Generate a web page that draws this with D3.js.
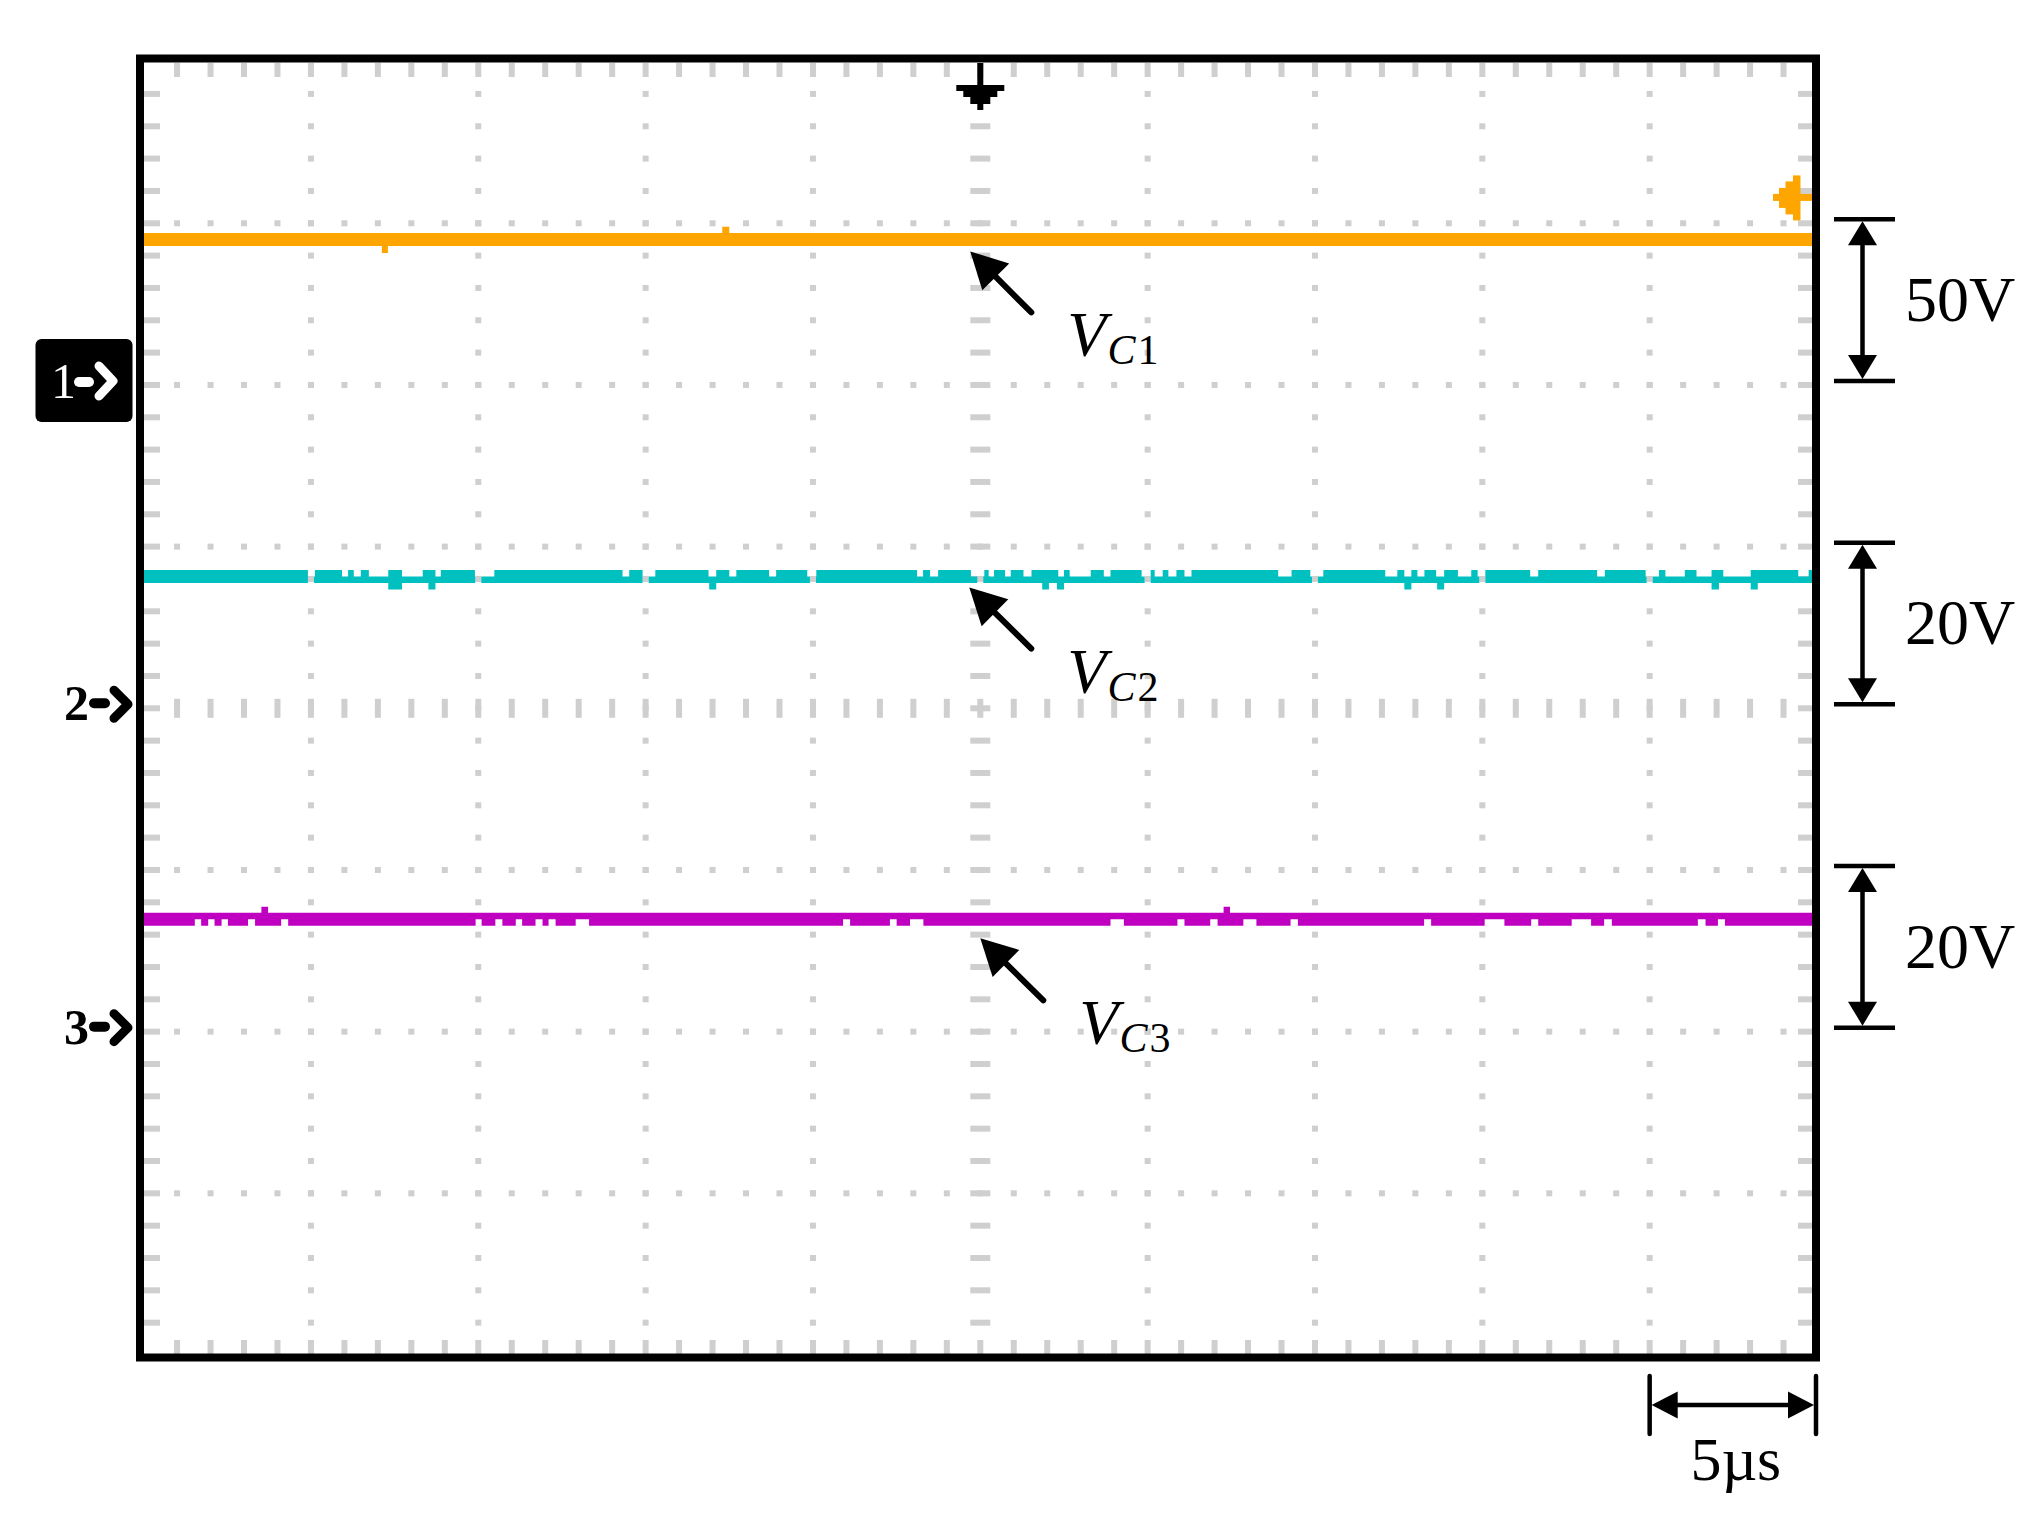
<!DOCTYPE html>
<html>
<head>
<meta charset="utf-8">
<script src="https://cdn.jsdelivr.net/npm/d3@7"></script>
<style>
  html, body { margin: 0; padding: 0; background: #ffffff; }
  svg { display: block; }
</style>
</head>
<body>
<svg id="chart" width="2043" height="1518"></svg>
<script>
// ---------------- DATA ----------------
const channelIds   = [1, 2, 3];
const traceNames   = ["C1", "C2", "C3"];           // subscripts of V
const voltsPerDiv  = [50, 20, 20];                 // V / div
const offsetDiv    = [2, 0, -2];                   // channel zero position (div)
const traceLevels  = [45, 16.3, 13.9];             // V (steady capacitor voltages)
const traceColors  = ["#FFA500", "#00C0C0", "#C000C0"];
const scaleLabels  = ["50V", "20V", "20V"];
const timePerDiv   = 5;                            // µs / div
const timeDivs     = 10;
const voltDivs     = 8;
const timeLabel    = "5\u00B5s";
const triggerLevel = 58;                           // V on CH1

// VC1 glitches (µs intervals)
const vc1Up   = [[-7.71, -7.50]];
const vc1Down = [[-17.88, -17.70]];
const vc1UpDv = 1.9, vc1DownDv = 2.2;

// VC2 glitches
const vc2NotchTop = [[-20.09,-19.88],[-19.07,-18.89],[-18.72,-18.51],[-18.27,-17.69],[-17.28,-16.66],
  [-16.28,-16.12],[-15.10,-14.52],[-10.69,-10.49],[-10.09,-9.71],[-8.12,-7.89],[-7.50,-7.29],
  [-6.31,-6.10],[-5.17,-4.90],[-1.89,-1.71],[-1.50,-1.26],[-0.28,0.12],[0.25,0.41],[0.74,0.91],
  [1.29,1.53],[2.33,2.50],[2.67,3.30],[3.69,3.89],[4.82,5.06],[5.21,5.45],[5.62,5.86],[6.10,6.31],
  [8.90,9.30],[9.86,10.25],[12.10,12.46],[12.67,12.88],[13.06,13.27],[13.62,13.86],[14.27,14.67],
  [14.86,15.07],[16.43,16.67],[18.43,18.66],[19.88,20.28],[20.47,21.05],[21.40,21.85],[22.20,23.02],
  [24.44,24.75]];
const vc2Down = [[-17.69,-17.28],[-16.49,-16.28],[-8.10,-7.89],[1.85,2.05],[2.29,2.50],
  [12.67,12.88],[13.65,13.86],[21.85,22.07],[23.02,23.23]];
const vc2DownDv = 0.8;
const vc2Gap = [[-20.09,-19.91],[-15.09,-14.91],[-10.09,-9.91],[-5.09,-4.91],[-0.09,0.09],
  [4.91,5.09],[9.91,10.09],[14.91,15.09],[19.91,20.09]];

// VC3 glitches
const vc3NotchBot = [[-23.47,-23.28],[-23.07,-22.88],[-22.67,-22.48],[-21.88,-21.67],[-20.89,-20.68],
  [-15.08,-14.90],[-14.49,-14.28],[-13.88,-13.69],[-13.29,-13.08],[-12.90,-12.69],[-12.09,-11.69],
  [-4.10,-3.89],[-2.70,-2.50],[-2.10,-1.70],[3.89,4.29],[5.89,6.10],[6.87,7.09],[7.86,8.25],
  [9.27,9.49],[13.26,13.47],[15.07,15.66],[16.46,16.67],[17.67,18.25],[18.64,18.87],[21.44,21.67],
  [22.04,22.25]];
const vc3Up = [[-21.48,-21.28],[7.27,7.46]];
const vc3UpDv = 0.74;

// ---------------- LAYOUT ----------------
const FONT = "'Liberation Serif','Times New Roman',Times,serif";
const GRID = "#cfcfcf";
const HALF = 6.5;           // half trace thickness (px)
const MARK_SHIFT = -4;      // small vertical nudge of channel markers / scale bars

const svg = d3.select("#chart");
svg.append("rect").attr("width", 2043).attr("height", 1518).attr("fill", "#fff");

const tHalf = timeDivs * timePerDiv / 2;
const x = d3.scaleLinear().domain([-tHalf, tHalf]).range([143.6, 1817]);
const yDiv = d3.scaleLinear().domain([-voltDivs / 2, voltDivs / 2]).range([1355, 61.6]);
const yCh = (ch, v) => yDiv(v / voltsPerDiv[ch] + offsetDiv[ch]);

// ---------------- GRID ----------------
const minorX = d3.range(1, timeDivs * 5).map(m => -tHalf + m * timePerDiv / 5);
const minorY = d3.range(1, voltDivs * 5).map(m => +(-voltDivs / 2 + m * 0.2).toFixed(3));
const majorX = d3.range(1, timeDivs).map(k => -tHalf + k * timePerDiv).filter(t => t !== 0);
const majorY = d3.range(1, voltDivs).map(k => -voltDivs / 2 + k).filter(d => d !== 0);

const g = svg.append("g").attr("fill", GRID);
majorX.forEach(t => minorY.forEach(d =>
  g.append("rect").attr("x", x(t) - 3).attr("y", yDiv(d) - 3).attr("width", 6).attr("height", 6)));
majorY.forEach(d => minorX.forEach(t =>
  g.append("rect").attr("x", x(t) - 3).attr("y", yDiv(d) - 3).attr("width", 6).attr("height", 6)));
minorY.forEach(d =>
  g.append("rect").attr("x", x(0) - 10).attr("y", yDiv(d) - 3).attr("width", 20).attr("height", 6));
minorX.forEach(t =>
  g.append("rect").attr("x", x(t) - 3).attr("y", yDiv(0) - 9.5).attr("width", 6).attr("height", 19));
minorX.forEach(t => {
  g.append("rect").attr("x", x(t) - 3).attr("y", 63).attr("width", 6).attr("height", 14);
  g.append("rect").attr("x", x(t) - 3).attr("y", 1340).attr("width", 6).attr("height", 14);
});
minorY.forEach(d => {
  g.append("rect").attr("x", 144).attr("y", yDiv(d) - 3).attr("width", 16).attr("height", 6);
  g.append("rect").attr("x", 1798).attr("y", yDiv(d) - 3).attr("width", 14).attr("height", 6);
});

// ---------------- TRACES ----------------
function buildProfile(ch, ev) {
  const level = traceLevels[ch];
  const yc = yCh(ch, level);
  const lists = ["notchTop", "notchBot", "gap", "up", "down"].map(k => ev[k] || []);
  const bounds = new Set([-tHalf, tHalf]);
  lists.flat().forEach(([a, b]) => { bounds.add(a); bounds.add(b); });
  const ts = [...bounds].sort((a, b) => a - b);
  const inside = (list, m) => (list || []).some(([a, b]) => m > a && m < b);
  const pts = [];
  for (let i = 0; i < ts.length - 1; i++) {
    const m = (ts[i] + ts[i + 1]) / 2;
    let top = yc - HALF, bot = yc + HALF;
    if (inside(ev.up, m)) top = yCh(ch, level + ev.upDv) - HALF;
    if (inside(ev.down, m)) bot = yCh(ch, level - ev.downDv) + HALF;
    if (inside(ev.notchTop, m)) top = yc;
    if (inside(ev.notchBot, m)) bot = yc;
    if (inside(ev.gap, m)) { top = yc; bot = yc; }
    pts.push({ t: ts[i], top, bot });
  }
  const last = pts[pts.length - 1];
  pts.push({ t: tHalf, top: last.top, bot: last.bot });
  return pts;
}

const traceEvents = [
  { up: vc1Up, upDv: vc1UpDv, down: vc1Down, downDv: vc1DownDv },
  { notchTop: vc2NotchTop, down: vc2Down, downDv: vc2DownDv, gap: vc2Gap },
  { notchBot: vc3NotchBot, up: vc3Up, upDv: vc3UpDv }
];

svg.append("clipPath").attr("id", "plotClip")
  .append("rect").attr("x", 144).attr("y", 62).attr("width", 1668).attr("height", 1292);

const area = d3.area().x(d => x(d.t)).y0(d => d.bot).y1(d => d.top).curve(d3.curveStepAfter);
const gt = svg.append("g").attr("clip-path", "url(#plotClip)");
traceEvents.forEach((ev, ch) => {
  gt.append("path").attr("d", area(buildProfile(ch, ev))).attr("fill", traceColors[ch]);
});

// ---------------- FRAME ----------------
svg.append("rect").attr("x", 140).attr("y", 58.5).attr("width", 1676).attr("height", 1299)
  .attr("fill", "none").attr("stroke", "#000").attr("stroke-width", 8);

// ground / time reference marker (t = 0)
{
  const x0 = x(0);
  const rects = [[-3, 63, 6, 25], [-24, 85, 48, 6], [-17, 91, 34, 6], [-10, 97, 20, 7], [-3, 104, 6, 6]];
  rects.forEach(([dx, y, w, h]) => svg.append("rect").attr("x", x0 + dx).attr("y", y)
    .attr("width", w).attr("height", h).attr("fill", "#000"));
}

// trigger level marker (CH1)
{
  const yt = yCh(0, triggerLevel);
  const rects = [[1800, -3.5, 12, 7], [1793, -22, 7.5, 45], [1785.5, -16, 8, 33], [1779, -9.5, 7, 20], [1773, -3.5, 6.5, 7]];
  rects.forEach(([xx, dy, w, h]) => svg.append("rect").attr("x", xx).attr("y", yt + dy)
    .attr("width", w).attr("height", h).attr("fill", traceColors[0]));
}

// channel markers
channelIds.forEach((id, ch) => {
  const yc = yDiv(offsetDiv[ch]) + MARK_SHIFT;
  const gm = svg.append("g");
  if (ch === 0) {
    gm.append("rect").attr("x", 35.5).attr("y", yc - 42).attr("width", 97).attr("height", 83)
      .attr("rx", 6).attr("fill", "#000");
    gm.append("text").attr("x", 51).attr("y", yc + 17).attr("font-family", FONT)
      .attr("font-size", 50).attr("fill", "#fff").text(id);
    gm.append("line").attr("x1", 79).attr("x2", 89).attr("y1", yc + 1).attr("y2", yc + 1)
      .attr("stroke", "#fff").attr("stroke-width", 10).attr("stroke-linecap", "round");
    gm.append("polyline").attr("points", `99,${yc - 15} 113,${yc} 99,${yc + 15}`)
      .attr("fill", "none").attr("stroke", "#fff").attr("stroke-width", 9)
      .attr("stroke-linecap", "round").attr("stroke-linejoin", "round");
  } else {
    gm.append("text").attr("x", 64).attr("y", yc + 16).attr("font-family", FONT)
      .attr("font-weight", "bold").attr("font-size", 50).attr("fill", "#000").text(id);
    gm.append("line").attr("x1", 94).attr("x2", 105).attr("y1", yc - 1).attr("y2", yc - 1)
      .attr("stroke", "#000").attr("stroke-width", 10).attr("stroke-linecap", "round");
    gm.append("polyline").attr("points", `114,${yc - 14} 128,${yc} 114,${yc + 14}`)
      .attr("fill", "none").attr("stroke", "#000").attr("stroke-width", 9)
      .attr("stroke-linecap", "round").attr("stroke-linejoin", "round");
  }
});

// ---------------- ANNOTATIONS ----------------
const annot = [
  { ch: 0, tip: [-10, 12], tail: [61, 61] },
  { ch: 1, tip: [-11, 11], tail: [62, 61] },
  { ch: 2, tip: [0, 19], tail: [63, 62] }
];
annot.forEach(a => {
  const yc = yCh(a.ch, traceLevels[a.ch]);
  const tip = [x(0) + a.tip[0], yc + a.tip[1]];
  const tail = [tip[0] + a.tail[0], tip[1] + a.tail[1]];
  const L = Math.hypot(a.tail[0], a.tail[1]);
  const ux = a.tail[0] / L, uy = a.tail[1] / L;
  const base = [tip[0] + ux * 36, tip[1] + uy * 36];
  const px = -uy, py = ux;
  svg.append("line").attr("x1", base[0] - ux * 2).attr("y1", base[1] - uy * 2)
    .attr("x2", tail[0]).attr("y2", tail[1])
    .attr("stroke", "#000").attr("stroke-width", 6).attr("stroke-linecap", "round");
  svg.append("polygon").attr("points",
    `${tip[0]},${tip[1]} ${base[0] + px * 19},${base[1] + py * 19} ${base[0] - px * 19},${base[1] - py * 19}`)
    .attr("fill", "#000");
  const name = traceNames[a.ch];
  const t = svg.append("text").attr("x", tail[0] + 36).attr("y", tail[1] + 44)
    .attr("font-family", FONT).attr("font-size", 64).attr("font-style", "italic").attr("fill", "#000");
  t.append("tspan").text("V");
  t.append("tspan").attr("font-size", 42).attr("dy", 8).attr("dx", 1).text(name[0]);
  t.append("tspan").attr("font-size", 42).attr("font-style", "normal").attr("dx", 2).text(name.slice(1));
});

// ---------------- SCALE BARS ----------------
scaleLabels.forEach((lab, ch) => {
  const y0 = yDiv(offsetDiv[ch]) + MARK_SHIFT;
  const y1 = yDiv(offsetDiv[ch] + 1) + MARK_SHIFT;
  const xc = 1862.5;
  const gs = svg.append("g");
  [y0, y1].forEach(yy => gs.append("line").attr("x1", 1834).attr("x2", 1895).attr("y1", yy).attr("y2", yy)
    .attr("stroke", "#000").attr("stroke-width", 4.5));
  gs.append("line").attr("x1", xc).attr("x2", xc).attr("y1", y1 + 20).attr("y2", y0 - 20)
    .attr("stroke", "#000").attr("stroke-width", 4.5);
  gs.append("polygon").attr("points", `${xc},${y1 + 2} ${xc - 14.5},${y1 + 26} ${xc + 14.5},${y1 + 26}`).attr("fill", "#000");
  gs.append("polygon").attr("points", `${xc},${y0 - 2} ${xc - 14.5},${y0 - 26} ${xc + 14.5},${y0 - 26}`).attr("fill", "#000");
  gs.append("text").attr("x", 1905).attr("y", (y0 + y1) / 2 + 21).attr("font-family", FONT)
    .attr("font-size", 64).attr("fill", "#000").text(lab);
});

{
  const xa = x(tHalf - timePerDiv), xb = x(tHalf) - 1, yy = 1405;
  const gs = svg.append("g");
  [xa, xb].forEach(xx => gs.append("line").attr("x1", xx).attr("x2", xx).attr("y1", 1376).attr("y2", 1434)
    .attr("stroke", "#000").attr("stroke-width", 4.5).attr("stroke-linecap", "round"));
  gs.append("line").attr("x1", xa + 20).attr("x2", xb - 20).attr("y1", yy).attr("y2", yy)
    .attr("stroke", "#000").attr("stroke-width", 4.5);
  gs.append("polygon").attr("points", `${xa + 2},${yy} ${xa + 28},${yy - 13.5} ${xa + 28},${yy + 13.5}`).attr("fill", "#000");
  gs.append("polygon").attr("points", `${xb - 2},${yy} ${xb - 28},${yy - 13.5} ${xb - 28},${yy + 13.5}`).attr("fill", "#000");
  gs.append("text").attr("x", (xa + xb) / 2 + 3).attr("y", 1480).attr("text-anchor", "middle")
    .attr("font-family", FONT).attr("font-size", 62).attr("fill", "#000").text(timeLabel);
}
</script>
</body>
</html>
